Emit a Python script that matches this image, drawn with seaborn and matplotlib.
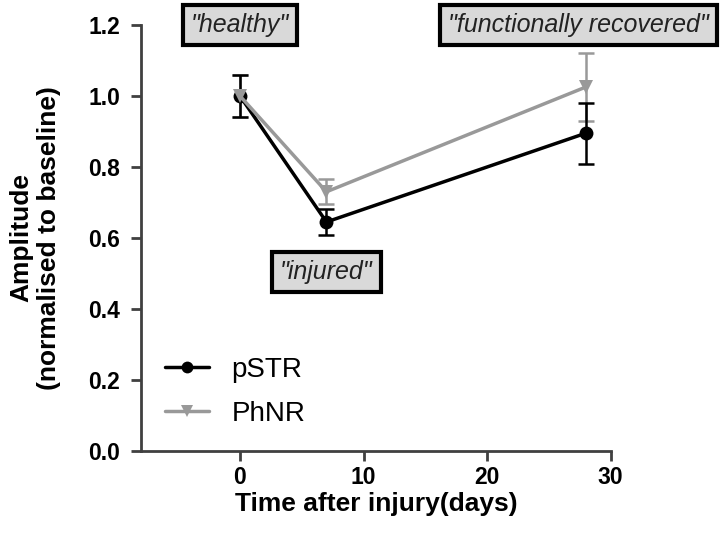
import numpy as np
import pandas as pd
import seaborn as sns
import matplotlib.pyplot as plt

# ================== DATA ==================
days = [0, 7, 28]
pstr_mean = [1.00, 0.645, 0.895]
pstr_err = [0.06, 0.037, 0.086]
phnr_mean = [1.00, 0.73, 1.025]
phnr_err = [0.06, 0.035, 0.095]

labels = ["\"healthy\"", "\"injured\"", "\"functionally recovered\""]
label_x = [0, 7, 27.4]
label_y = [1.2, 0.505, 1.2]

df = pd.DataFrame({
    "day": days * 2,
    "amp": pstr_mean + phnr_mean,
    "err": pstr_err + phnr_err,
    "signal": ["pSTR"] * 3 + ["PhNR"] * 3,
})

# ================== PLOT ==================
sns.set_style("ticks")
plt.rcParams["font.family"] = ["Liberation Sans", "DejaVu Sans"]
plt.rcParams["text.color"] = "black"
plt.rcParams["axes.labelcolor"] = "black"

fig = plt.figure(figsize=(7.27, 5.39), dpi=100)
ax = fig.add_axes([0.194, 0.163, 0.646, 0.791])

colors = {"pSTR": "black", "PhNR": "#999999"}
markers = {"pSTR": "o", "PhNR": "v"}

# gray first so black sits on top
for sig in ["PhNR", "pSTR"]:
    sub = df[df["signal"] == sig]
    ax.errorbar(sub["day"], sub["amp"], yerr=sub["err"], fmt="none",
                ecolor=colors[sig], elinewidth=1.8, capsize=6, capthick=1.8, zorder=2)

sns.lineplot(data=df, x="day", y="amp", hue="signal", style="signal",
             hue_order=["pSTR", "PhNR"], palette=colors, markers=markers,
             dashes=False, markersize=10, linewidth=2.5, markeredgewidth=0,
             ax=ax, zorder=3)

for txt, x, y in zip(labels, label_x, label_y):
    ax.text(x, y, txt, ha="center", va="center", fontsize=18, style="italic",
            color="#222222", clip_on=False, zorder=5,
            bbox=dict(boxstyle="square,pad=0.32", fc="#d9d9d9", ec="black", lw=3))

ax.set_xlim(-8, 30)
ax.set_ylim(0, 1.2)
ax.set_xticks([0, 10, 20, 30])
ax.set_yticks(np.arange(0, 1.21, 0.2))
ax.set_yticklabels([f"{v:.1f}" for v in np.arange(0, 1.21, 0.2)])
sns.despine(ax=ax)
for s in ["left", "bottom"]:
    ax.spines[s].set_linewidth(2)
    ax.spines[s].set_color("#404040")
ax.tick_params(width=2, length=7, labelsize=16.5, color="#404040", labelcolor="black")
ax.tick_params(axis="x", pad=4)
ax.tick_params(axis="y", pad=8)
for lab in ax.get_xticklabels() + ax.get_yticklabels():
    lab.set_fontweight("bold")

ax.set_xlabel("Time after injury(days)", fontsize=19, fontweight="bold", labelpad=2)
ax.set_ylabel("Amplitude\n(normalised to baseline)", fontsize=19, fontweight="bold",
              linespacing=1.15, labelpad=20)

ax.legend(title=None, frameon=False, fontsize=20, loc="upper left",
          bbox_to_anchor=(0.051, 0.221), borderpad=0, borderaxespad=0,
          handlelength=1.6, handletextpad=0.8, labelspacing=0.65, markerscale=0.85)

plt.savefig("out.png", dpi=100)
